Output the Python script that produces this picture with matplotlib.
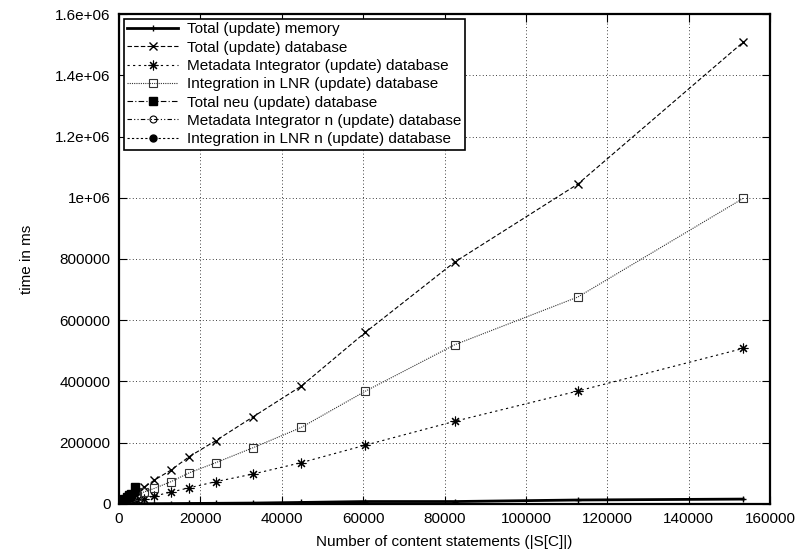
import numpy as np
import matplotlib.pyplot as plt

plt.rcParams['font.family'] = ['Liberation Sans', 'DejaVu Sans']

# number of content statements
n_stmts = [1000, 1500, 2100, 3000, 4300, 6100, 8700, 12800, 17300, 23800,
           33000, 44800, 60500, 82500, 112800, 153400]
total_mem = [200, 300, 400, 500, 600, 800, 1000, 1300, 1700, 2200,
             3000, 5000, 8000, 8000, 13000, 16000]
total_db = [9000, 13000, 19000, 27000, 38000, 54000, 78000, 111000, 155000, 207000,
            285000, 385000, 560000, 790000, 1045000, 1508000]
meta_db = [3000, 4000, 6000, 8000, 12000, 17000, 26000, 39000, 53000, 73000,
           98000, 135000, 192000, 270000, 369000, 508000]
lnr_db = [6000, 9000, 13000, 19000, 27000, 39000, 51000, 73000, 102000, 135000,
          184000, 250000, 368000, 520000, 676000, 998000]

# "neu" runs only cover small inputs
n_stmts_neu = [150, 300, 600, 900, 1300, 1900, 2500, 2900, 3900]
total_neu = [2000, 4000, 8000, 12000, 16000, 23000, 28000, 33000, 54000]
meta_neu = [600, 1200, 2500, 3500, 5000, 7000, 9000, 11000, 16000]
lnr_neu = [1300, 2700, 5200, 8000, 11000, 15000, 19000, 22000, 37000]

fig, ax = plt.subplots(figsize=(8.01, 5.58), dpi=100)
fig.subplots_adjust(left=0.1486, right=0.9613, bottom=0.0968, top=0.9749)

ax.plot(n_stmts, total_mem, color='black', lw=2, marker='+', ms=5,
        label='Total (update) memory')
ax.plot(n_stmts, total_db, color='black', lw=0.8, ls=(0, (4, 2)), marker='x', ms=6,
        label='Total (update) database')
ax.plot(n_stmts, meta_db, color='black', lw=0.8, ls=(0, (2, 3)), marker=(8, 2, 0), ms=7,
        mew=0.8, label='Metadata Integrator (update) database')
ax.plot(n_stmts, lnr_db, color='#333333', lw=0.8, ls=(0, (1, 1)), marker='s', ms=6,
        mfc='none', mew=0.8, label='Integration in LNR (update) database')
ax.plot(n_stmts_neu, total_neu, color='black', lw=0.8, ls=(0, (5, 2, 1, 2)), marker='s',
        ms=6, label='Total neu (update) database')
ax.plot(n_stmts_neu, meta_neu, color='black', lw=0.8, ls=(0, (4, 2, 1, 2, 1, 2)),
        marker='o', ms=5, mfc='none', mew=0.8, label='Metadata Integrator n (update) database')
ax.plot(n_stmts_neu, lnr_neu, color='black', lw=0.8, ls=(0, (2, 2)), marker='o', ms=5,
        label='Integration in LNR n (update) database')

ax.set_xlim(0, 160000)
ax.set_ylim(0, 1.6e6)
ax.set_xticks(np.arange(0, 160001, 20000))
ax.set_yticks(np.arange(0, 1.6e6 + 1, 2e5))
ax.set_yticklabels(['0', '200000', '400000', '600000', '800000', '1e+06',
                    '1.2e+06', '1.4e+06', '1.6e+06'])
ax.tick_params(direction='in', top=True, right=True, length=6, labelsize=11, pad=6)
ax.grid(True, ls=(0, (1, 3)), color='black', lw=0.6)
for s in ax.spines.values():
    s.set_linewidth(1.6)

ax.set_xlabel('Number of content statements (|S[C]|)', fontsize=11, labelpad=6)
ax.set_ylabel('time in ms', fontsize=11)
ax.yaxis.set_label_coords(-0.131, 0.5)

leg = ax.legend(loc='upper left', fontsize=11, handlelength=3.3, handletextpad=0.6,
                fancybox=False, framealpha=1, edgecolor='black', borderpad=0.25,
                labelspacing=0.28, borderaxespad=0.3)
leg.get_frame().set_linewidth(1.2)

fig.savefig('out.png', dpi=100)
